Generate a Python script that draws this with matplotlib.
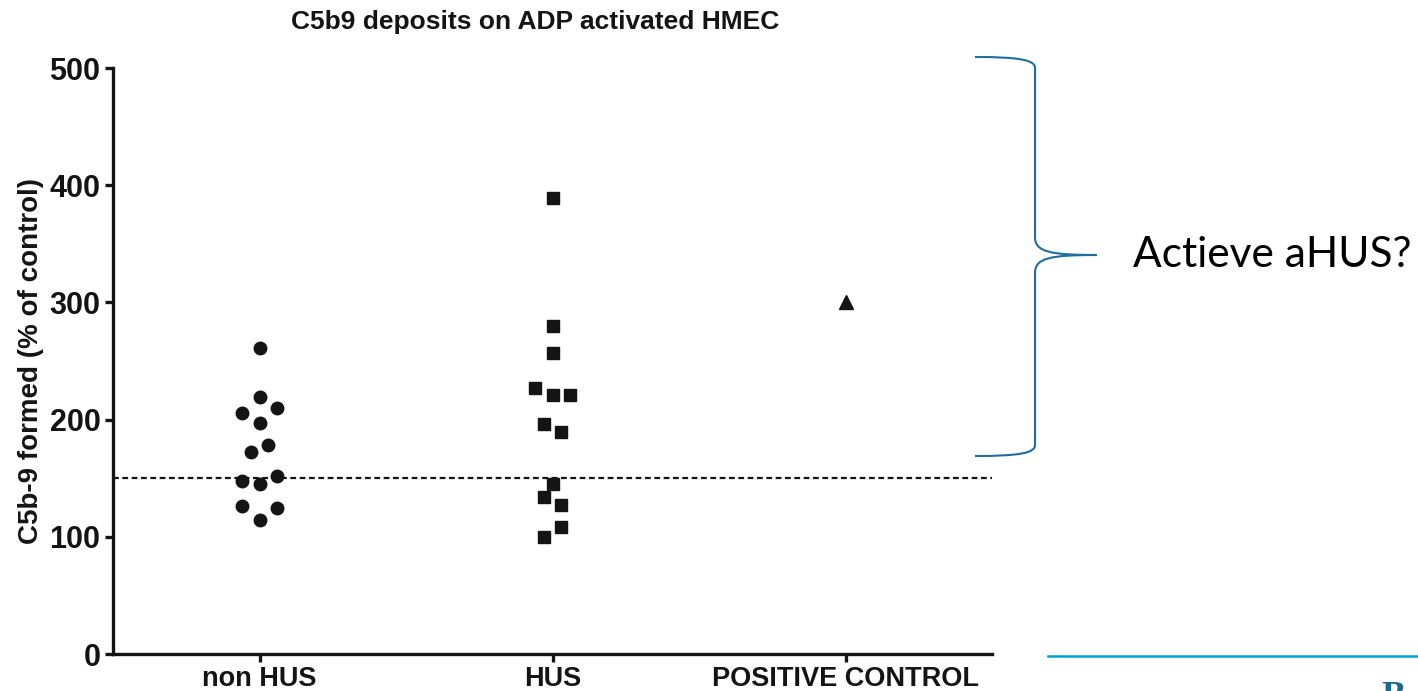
import matplotlib
matplotlib.use("Agg")
import matplotlib.pyplot as plt
from matplotlib.path import Path
from matplotlib.patches import PathPatch

W, H = 1418, 691

groups = ["non HUS", "HUS", "POSITIVE CONTROL"]

# C5b-9 formed (% of control) per donor
non_hus = [261, 219, 206, 210, 197, 178, 172, 148, 145, 152, 126, 125, 114]
non_hus_dx = [0, 0, -0.06, 0.06, 0, 0.03, -0.03, -0.06, 0, 0.06, -0.06, 0.06, 0]
hus = [389, 280, 257, 227, 221, 221, 196, 189, 145, 134, 127, 108, 100]
hus_dx = [0, 0, 0, -0.06, 0, 0.06, -0.03, 0.03, 0, -0.03, 0.03, 0.03, -0.03]
positive = [300]
threshold = 150

plt.rcParams["font.family"] = ["Liberation Sans", "DejaVu Sans"]

fig = plt.figure(figsize=(W / 100, H / 100), dpi=100)
ax = fig.add_axes([113 / W, 1 - 654 / H, (992 - 113) / W, (654 - 68) / H])

ink = "#141414"
ax.plot([0 + d for d in non_hus_dx], non_hus, "o", color=ink, markersize=9, linestyle="none")
ax.plot([1 + d for d in hus_dx], hus, "s", color=ink, markersize=9, linestyle="none")
ax.plot([2] * len(positive), positive, "^", color=ink, markersize=9.5, linestyle="none")
ax.axhline(threshold, color=ink, linewidth=1.6, linestyle=(0, (2.6, 1.6)))

ax.set_xlim(-0.5, 2.5)
ax.set_ylim(0, 500)
ax.set_yticks([0, 100, 200, 300, 400, 500])
ax.set_xticks(range(len(groups)))
ax.set_xticklabels(groups)
for side in ("top", "right"):
    ax.spines[side].set_visible(False)
for side in ("left", "bottom"):
    ax.spines[side].set_linewidth(2.4)
    ax.spines[side].set_color(ink)
ax.tick_params(axis="both", direction="out", length=6, width=2.4, color=ink,
               labelcolor=ink)
ax.tick_params(axis="y", pad=3, labelsize=22)
ax.tick_params(axis="x", pad=3, labelsize=19.5)
for lbl in ax.get_xticklabels() + ax.get_yticklabels():
    lbl.set_fontweight("bold")

ax.set_ylabel("C5b-9 formed (% of control)", fontsize=20, fontweight="bold",
              color=ink, labelpad=4)
fig.text(535 / W, 1 - 22 / H, "C5b9 deposits on ADP activated HMEC",
         ha="center", va="center", fontsize=19, fontweight="bold", color=ink)

# curly brace grouping the points above threshold
def px(x, y):
    return (x / W, 1 - y / H)

bx, tip_x = 1035, 1097
top, mid, bot = 57, 255, 456
verts = [
    px(975, top), px(1020, top), px(bx, top + 3), px(bx, top + 11),
    px(bx, mid - 18),
    px(bx, mid - 3), px(1050, mid), px(tip_x, mid),
    px(1050, mid), px(bx, mid + 3), px(bx, mid + 18),
    px(bx, bot - 11),
    px(bx, bot - 3), px(1020, bot), px(975, bot),
]
codes = [Path.MOVETO, Path.CURVE4, Path.CURVE4, Path.CURVE4,
         Path.LINETO,
         Path.CURVE4, Path.CURVE4, Path.CURVE4,
         Path.CURVE4, Path.CURVE4, Path.CURVE4,
         Path.LINETO,
         Path.CURVE4, Path.CURVE4, Path.CURVE4]
brace = PathPatch(Path(verts, codes), facecolor="none", edgecolor="#1f6e9c",
                  linewidth=1.5, transform=fig.transFigure)
fig.add_artist(brace)

fig.text(1133 / W, 1 - 255 / H, "Actieve aHUS?", ha="left", va="center",
         fontsize=30.5, family=["Lato", "DejaVu Sans"], color="black")

# slide footer rule and clipped logo letter
fig.add_artist(plt.Line2D([1048 / W, 1], [1 - 656 / H, 1 - 656 / H],
                          color="#00a3cc", linewidth=1.8, transform=fig.transFigure))
fig.text(1381 / W, 1 - 681 / H, "B", ha="left", va="top", fontsize=26,
         fontweight="bold", family=["Liberation Serif", "DejaVu Serif"],
         color="#1b6a8c")

fig.savefig("out.png", dpi=100)
